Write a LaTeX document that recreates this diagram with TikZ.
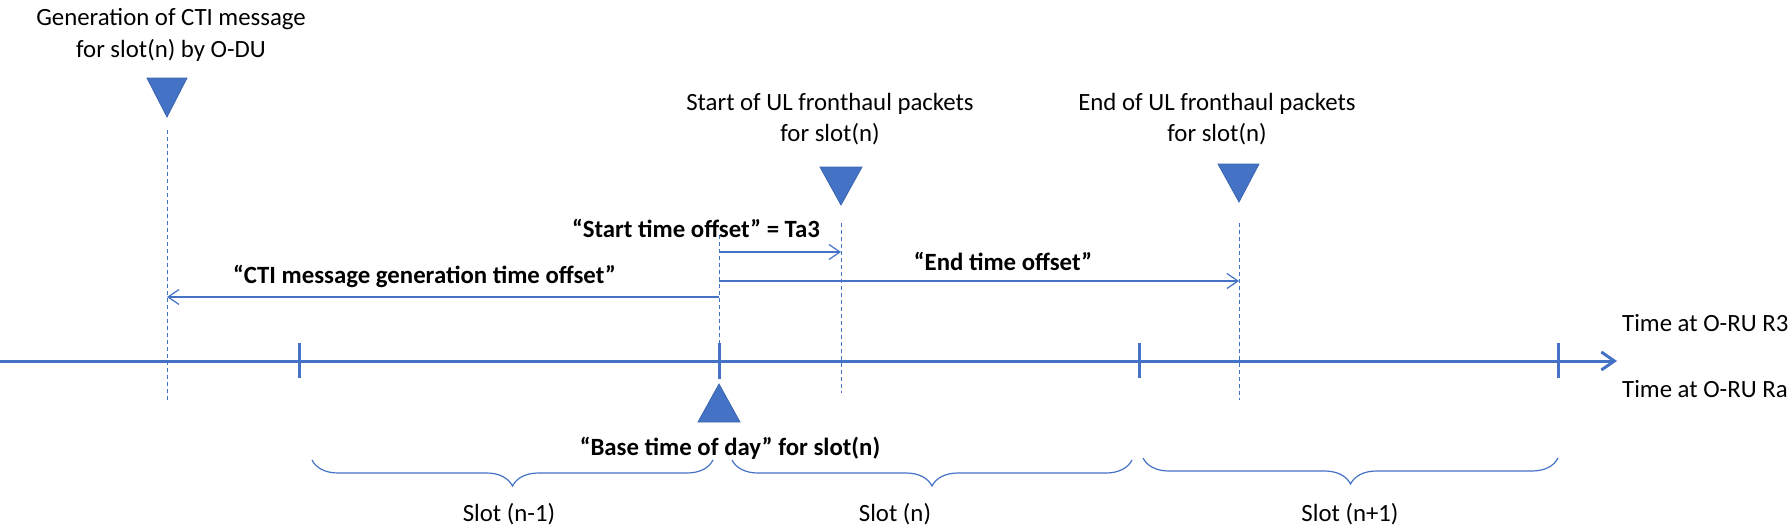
\documentclass[tikz,border=0pt]{standalone}
\usepackage{fontspec}
\setmainfont{Carlito}
\usetikzlibrary{arrows.meta,decorations.pathreplacing}
\definecolor{blu}{HTML}{4472C4}
\definecolor{blud}{HTML}{3B65B0}
\begin{document}
\begin{tikzpicture}[x=1pt,y=-1pt,
  txt/.style={inner sep=0pt,anchor=base,font=\fontsize{24.8}{31}\selectfont},
  btxt/.style={txt,font=\fontsize{24.8}{31}\selectfont\bfseries},
  axisline/.style={draw=blu,line width=3pt,-{Straight Barb[length=13pt,width=18pt]}},
  slottick/.style={draw=blu,line width=3pt},
  guide/.style={draw=blu,line width=1pt,dash pattern=on 4pt off 3pt},
  offarrow/.style={draw=blu,line width=1.2pt,-{Straight Barb[length=11pt,width=15pt]}},
  marker/.style={fill=blu,draw=blud,line width=0.8pt,line join=miter},
  slotbrace/.style={draw=blu,line width=1.2pt,decorate,decoration={brace,mirror,amplitude=26pt}}
]
\useasboundingbox (0,0) rectangle (1792,528);

% coordinates
\coordinate (axs) at (0,361);
\coordinate (axe) at (1617,361);
\coordinate (t1a) at (299,343); \coordinate (t1b) at (299,378);
\coordinate (t2a) at (719,343); \coordinate (t2b) at (719,379);
\coordinate (t3a) at (1139,343); \coordinate (t3b) at (1139,378);
\coordinate (t4a) at (1558,343); \coordinate (t4b) at (1558,378);

\coordinate (g1top) at (167,130); \coordinate (g1bot) at (167,402);
\coordinate (g2top) at (719,235); \coordinate (g2bot) at (719,361);
\coordinate (g3top) at (841,223); \coordinate (g3bot) at (841,393);
\coordinate (g4top) at (1239,223); \coordinate (g4bot) at (1239,400);

\coordinate (ctiA) at (719,297); \coordinate (ctiB) at (167,297);
\coordinate (staA) at (719,252); \coordinate (staB) at (841,252);
\coordinate (endA) at (719,281); \coordinate (endB) at (1239,281);

% dashed guide lines
\draw[guide] (g1top) -- (g1bot);
\draw[guide] (g2top) -- (g2bot);
\draw[guide] (g3top) -- (g3bot);
\draw[guide] (g4top) -- (g4bot);

% main time axis
\draw[axisline] (axs) -- (axe);
\draw[slottick] (t1a) -- (t1b);
\draw[slottick] (t2a) -- (t2b);
\draw[slottick] (t3a) -- (t3b);
\draw[slottick] (t4a) -- (t4b);

% offset arrows
\draw[offarrow] (ctiA) -- (ctiB);
\draw[offarrow] (staA) -- (staB);
\draw[offarrow] (endA) -- (endB);

% markers
\draw[marker] (147,78) -- (187,78) -- (167,117) -- cycle;
\draw[marker] (820,167) -- (862,167) -- (841,205) -- cycle;
\draw[marker] (1218,164) -- (1259,164) -- (1239,202) -- cycle;
\draw[marker] (698,422) -- (740,422) -- (719,384) -- cycle;

% braces
\draw[slotbrace] (312,460) -- (713,460);
\draw[slotbrace] (732,460) -- (1132,460);
\draw[slotbrace] (1143,458) -- (1558,458);

% texts
\node[txt] (gen1) at (171,25) {Generation of CTI message};
\node[txt] (gen2) at (171,57) {for slot(n) by O-DU};
\node[txt] (st1) at (830,110) {Start of UL fronthaul packets};
\node[txt] (st2) at (830,141) {for slot(n)};
\node[txt] (en1) at (1217,110) {End of UL fronthaul packets};
\node[txt] (en2) at (1217,141) {for slot(n)};
\node[btxt] (sto) at (696,237) {“Start time offset” = Ta3};
\node[btxt] (eto) at (1003,270) {“End time offset”};
\node[btxt,anchor=base west] (cto) at (233,283) {“CTI message generation time offset”};
\node[txt,anchor=base west] (r3) at (1622,331) {Time at O-RU R3};
\node[txt,anchor=base west] (ra) at (1622,397) {Time at O-RU Ra};
\node[btxt] (btod) at (730,455) {“Base time of day” for slot(n)};
\node[txt] (s1) at (509,521) {Slot (n-1)};
\node[txt] (s2) at (895,521) {Slot (n)};
\node[txt] (s3) at (1350,521) {Slot (n+1)};
\end{tikzpicture}
\end{document}
